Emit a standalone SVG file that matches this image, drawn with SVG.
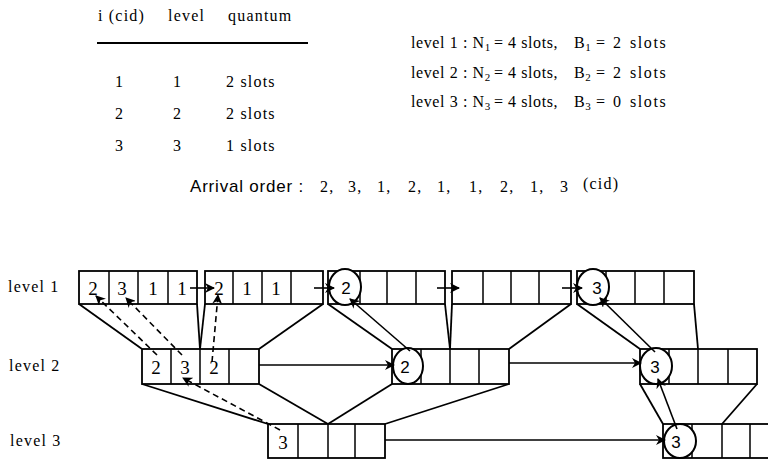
<svg xmlns="http://www.w3.org/2000/svg" width="768" height="459" viewBox="0 0 768 459">
<style>
.t{font-family:"Liberation Serif","Times New Roman",serif;font-size:16px;letter-spacing:1.2px;fill:#000}
.p{font-family:"Liberation Serif","Times New Roman",serif;font-size:16px;letter-spacing:0.6px;fill:#000}
.w{font-family:"Liberation Serif","Times New Roman",serif;font-size:16px;letter-spacing:1.6px;fill:#000}
.s{font-family:"Liberation Sans",Arial,sans-serif;font-size:17px;letter-spacing:0.8px;fill:#000}
.sub{font-size:11px;letter-spacing:0}
.d{font-family:"Liberation Serif","Times New Roman",serif;font-size:19px;fill:#000;text-anchor:middle}
.dc{font-family:"Liberation Sans",Arial,sans-serif;font-size:17px;fill:#000;text-anchor:middle}
.box{fill:#fff;stroke:#000;stroke-width:1.8}
.cell{stroke:#000;stroke-width:1.5;fill:none}
.circ{fill:#fff;stroke:#000;stroke-width:2}
.ln{stroke:#000;stroke-width:1.8;fill:none}
.ar{stroke:#000;stroke-width:1.6;fill:none;marker-end:url(#ah)}
.da{stroke:#000;stroke-width:1.6;fill:none;stroke-dasharray:6 4;marker-end:url(#ah)}
</style>
<defs>
<marker id="ah" viewBox="0 0 10 10" refX="9" refY="5" markerWidth="10" markerHeight="10" markerUnits="userSpaceOnUse" orient="auto">
<path d="M0,0 L10,5 L0,10 L3,5 z" fill="#000"/>
</marker>
</defs>
<rect width="768" height="459" fill="#fff"/>

<g id="table">
<text class="t" x="98" y="21">i (cid)</text>
<text class="t" x="168" y="21">level</text>
<text class="t" x="228" y="21">quantum</text>
<line x1="97" y1="43" x2="308" y2="43" stroke="#000" stroke-width="2"/>
<text class="t" x="115" y="87">1</text><text class="t" x="173" y="87">1</text><text class="t" x="226" y="87">2 slots</text>
<text class="t" x="115" y="119">2</text><text class="t" x="173" y="119">2</text><text class="t" x="226" y="119">2 slots</text>
<text class="t" x="115" y="151">3</text><text class="t" x="173" y="151">3</text><text class="t" x="226" y="151">1 slots</text>
</g>

<g id="params">
<text class="p" x="411" y="48">level 1 : N<tspan class="sub" dy="3">1</tspan></text>
<text class="p" x="494" y="48">=</text><text class="p" x="508" y="48">4 slots,</text>
<text class="p" x="574" y="48">B<tspan class="sub" dy="3">1</tspan></text>
<text class="p" x="596" y="48">=</text><text class="w" x="613" y="48">2</text><text class="w" x="630" y="48">slots</text>
<text class="p" x="411" y="78">level 2 : N<tspan class="sub" dy="3">2</tspan></text>
<text class="p" x="494" y="78">=</text><text class="p" x="508" y="78">4 slots,</text>
<text class="p" x="574" y="78">B<tspan class="sub" dy="3">2</tspan></text>
<text class="p" x="596" y="78">=</text><text class="w" x="613" y="78">2</text><text class="w" x="630" y="78">slots</text>
<text class="p" x="411" y="107">level 3 : N<tspan class="sub" dy="3">3</tspan></text>
<text class="p" x="494" y="107">=</text><text class="p" x="508" y="107">4 slots,</text>
<text class="p" x="574" y="107">B<tspan class="sub" dy="3">3</tspan></text>
<text class="p" x="596" y="107">=</text><text class="w" x="613" y="107">0</text><text class="w" x="630" y="107">slots</text>
</g>

<g id="arrival">
<text class="s" x="190" y="192">Arrival order :</text>
<text class="t" x="320" y="192">2,</text>
<text class="t" x="348" y="192">3,</text>
<text class="t" x="377" y="192">1,</text>
<text class="t" x="408" y="192">2,</text>
<text class="t" x="437" y="192">1,</text>
<text class="t" x="469" y="192">1,</text>
<text class="t" x="500" y="192">2,</text>
<text class="t" x="530" y="192">1,</text>
<text class="t" x="560" y="192">3</text>
<text class="t" x="583" y="189">(cid)</text>
</g>

<g id="labels">
<text class="t" x="8" y="292">level 1</text>
<text class="t" x="9" y="371">level 2</text>
<text class="t" x="10" y="446">level 3</text>
</g>

<g id="connectors">
<line class="ln" x1="79" y1="304" x2="142" y2="349"/>
<line class="ln" x1="197" y1="304" x2="200" y2="349"/>
<line class="ln" x1="205" y1="304" x2="200" y2="349"/>
<line class="ln" x1="323" y1="304" x2="259" y2="349"/>
<line class="ln" x1="328" y1="304" x2="392" y2="349"/>
<line class="ln" x1="445" y1="304" x2="450" y2="349"/>
<line class="ln" x1="452" y1="304" x2="450" y2="349"/>
<line class="ln" x1="571" y1="304" x2="509" y2="349"/>
<line class="ln" x1="577" y1="304" x2="640" y2="349"/>
<line class="ln" x1="694" y1="304" x2="698" y2="349"/>
<line class="ln" x1="142" y1="384" x2="268" y2="424"/>
<line class="ln" x1="259" y1="384" x2="328" y2="424"/>
<line class="ln" x1="392" y1="384" x2="328" y2="424"/>
<line class="ln" x1="509" y1="384" x2="385" y2="424"/>
<line class="ln" x1="640" y1="384" x2="663" y2="424"/>
<line class="ln" x1="757" y1="384" x2="722" y2="424"/>
</g>

<g id="A">
<rect class="box" x="79" y="271" width="118" height="33"/>
<path class="cell" d="M109,271V304M138,271V304M168,271V304"/>
<text class="d" x="93" y="295">2</text><text class="d" x="122" y="295">3</text>
<text class="d" x="153" y="295">1</text><text class="d" x="182" y="295">1</text>
</g>
<g id="B">
<rect class="box" x="205" y="271" width="118" height="33"/>
<path class="cell" d="M233,271V304M262,271V304M291,271V304"/>
<text class="d" x="219" y="295">2</text><text class="d" x="247" y="295">1</text><text class="d" x="276" y="295">1</text>
</g>
<g id="C">
<rect class="box" x="328" y="271" width="117" height="33"/>
<path class="cell" d="M360,271V304M387,271V304M416,271V304"/>
<ellipse class="circ" cx="345" cy="287" rx="16" ry="18"/>
<text class="dc" x="346" y="294">2</text>
</g>
<g id="D">
<rect class="box" x="452" y="271" width="119" height="33"/>
<path class="cell" d="M483,271V304M511,271V304M539,271V304"/>
</g>
<g id="E">
<rect class="box" x="577" y="271" width="117" height="33"/>
<path class="cell" d="M606,271V304M635,271V304M664,271V304"/>
<ellipse class="circ" cx="593" cy="287" rx="16" ry="18"/>
<text class="dc" x="597" y="294">3</text>
</g>
<g id="F">
<rect class="box" x="142" y="349" width="117" height="35"/>
<path class="cell" d="M171,349V384M200,349V384M229,349V384"/>
<text class="d" x="156" y="374">2</text><text class="d" x="185" y="374">3</text><text class="d" x="214" y="374">2</text>
</g>
<g id="G">
<rect class="box" x="392" y="349" width="117" height="35"/>
<path class="cell" d="M421,349V384M450,349V384M479,349V384"/>
<ellipse class="circ" cx="408" cy="366" rx="15" ry="18"/>
<text class="dc" x="405" y="373">2</text>
</g>
<g id="H">
<rect class="box" x="640" y="349" width="117" height="35"/>
<path class="cell" d="M669,349V384M698,349V384M728,349V384"/>
<ellipse class="circ" cx="656" cy="366" rx="16" ry="18"/>
<text class="dc" x="655" y="373">3</text>
</g>
<g id="K">
<rect class="box" x="268" y="424" width="117" height="34"/>
<path class="cell" d="M298,424V458M328,424V458M355,424V458"/>
<text class="d" x="283" y="449">3</text>
</g>
<g id="J">
<rect class="box" x="663" y="424" width="117" height="34"/>
<path class="cell" d="M692,424V458M722,424V458M750,424V458"/>
<ellipse class="circ" cx="680" cy="441" rx="16" ry="17"/>
<text class="dc" x="676" y="448">3</text>
</g>

<g id="arrows">
<line class="ar" x1="190" y1="288" x2="214" y2="288"/>
<line class="ar" x1="314" y1="288" x2="334" y2="288"/>
<line class="ar" x1="437" y1="288" x2="459" y2="288"/>
<line class="ar" x1="562" y1="288" x2="582" y2="288"/>
<line class="ar" x1="259" y1="365" x2="394" y2="365"/>
<line class="ar" x1="509" y1="363" x2="641" y2="363"/>
<line class="ar" x1="385" y1="440" x2="665" y2="440"/>
<line class="ar" x1="410" y1="351" x2="350" y2="299"/>
<line class="ar" x1="655" y1="352" x2="600" y2="298"/>
<line class="ar" x1="677" y1="429" x2="658" y2="379"/>
<line class="da" x1="157" y1="355" x2="96" y2="296"/>
<line class="da" x1="182" y1="355" x2="126" y2="298"/>
<line class="da" x1="212" y1="362" x2="218" y2="295"/>
<line class="da" x1="280" y1="430" x2="183" y2="378"/>
</g>
</svg>
